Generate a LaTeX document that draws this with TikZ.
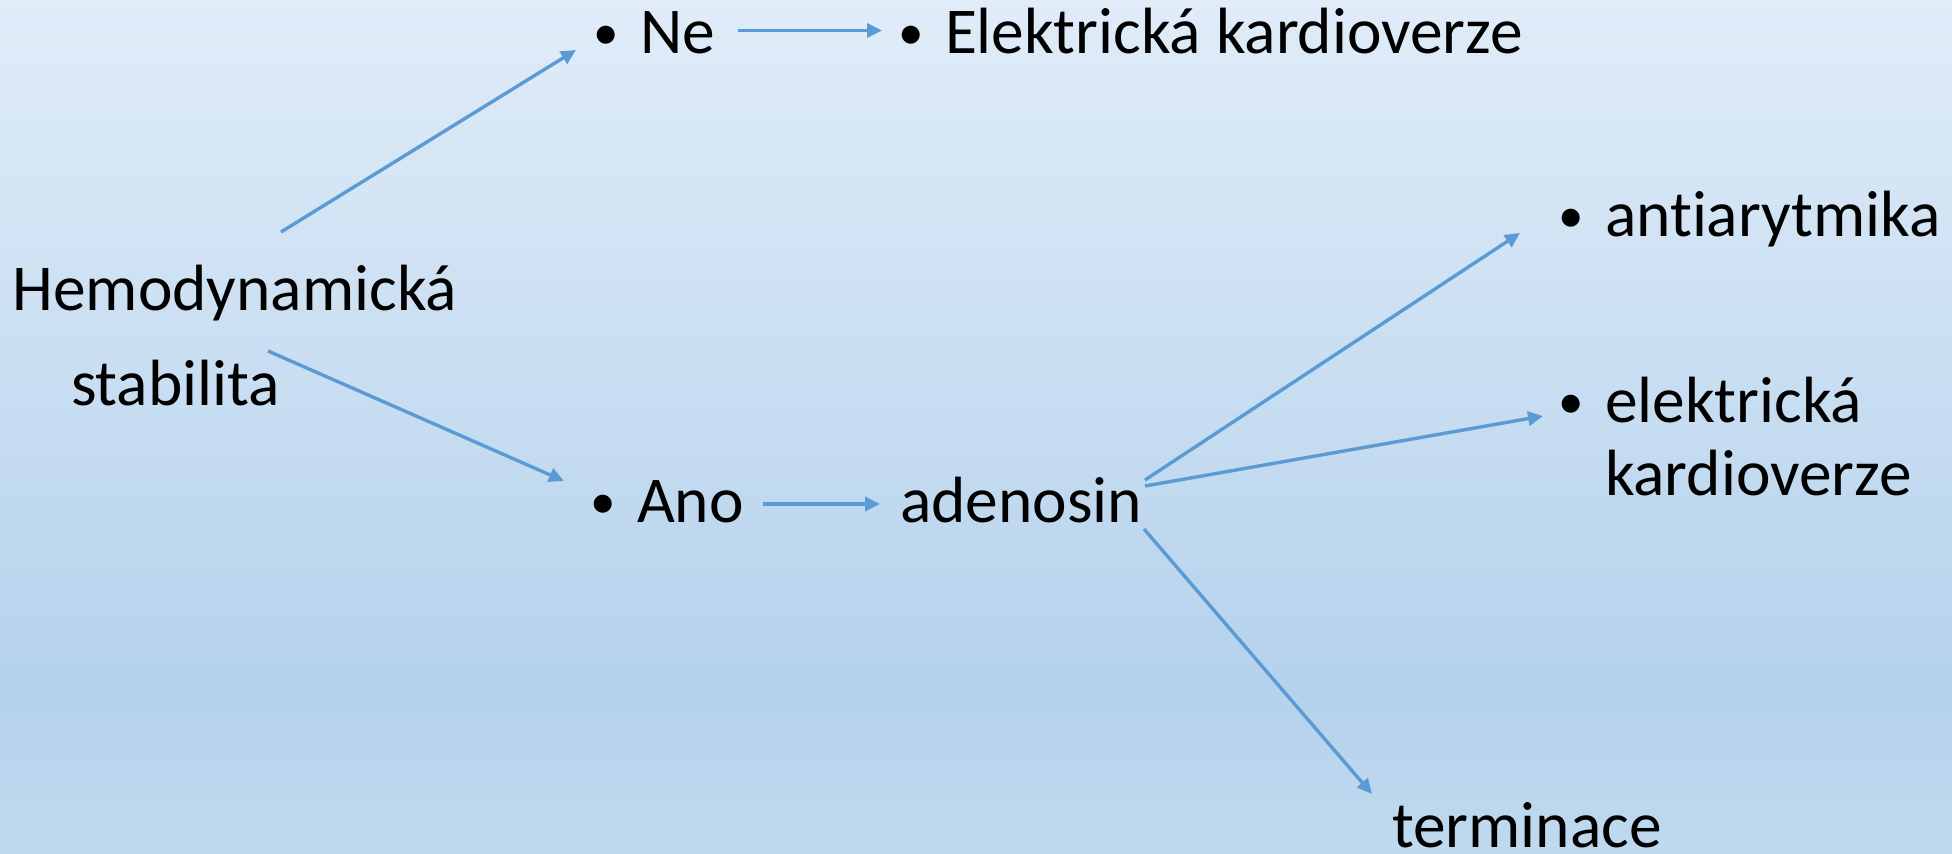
\documentclass[tikz,border=0pt]{standalone}
\usepackage{fontspec}
\setmainfont{Carlito}[Ligatures={NoCommon}]
\usetikzlibrary{arrows.meta}
\definecolor{bgtop}{RGB}{224,236,248}
\definecolor{bgmid}{RGB}{181,210,236}
\definecolor{bgbot}{RGB}{192,217,239}
\definecolor{arrowblue}{RGB}{91,155,213}
\newcommand{\bul}{\llap{\makebox[0pt][c]{\raisebox{2.4pt}{\scalebox{0.78}{•}}}\hspace{17pt}}}
\tikzset{
  lbl/.style={anchor=base west, inner sep=0pt, outer sep=0pt, font=\fontsize{32.7}{38}\selectfont, text=black},
  arr/.style={draw=arrowblue, line width=1.7pt, -{Triangle[length=7.5pt,width=7pt]}},
}
\begin{document}
\begin{tikzpicture}[x=0.5pt,y=-0.5pt]
\useasboundingbox (0,0) rectangle (1952,854);
\shade[top color=bgtop, bottom color=bgmid] (0,0) rectangle (1952,690);
\shade[top color=bgmid, bottom color=bgbot] (0,689) rectangle (1952,854);

\node[lbl] (hemo1) at (12.5,311) {Hemodynamická};
\node[lbl] (hemo2) at (71,406) {stabilita};
\node[lbl] (ne) at (640,54) {\bul Ne};
\node[lbl] (ek) at (945,54) {\bul Elektrická kardioverze};
\node[lbl] (ano) at (637,523) {\bul Ano};
\node[lbl] (aden) at (900,523) {adenosin};
\node[lbl] (anti) at (1605,237) {\bul antiarytmika};
\node[lbl] (elk1) at (1605,423) {\bul elektrická};
\node[lbl] (elk2) at (1605,496) {kardioverze};
\node[lbl] (term) at (1392,847) {terminace};

\draw[arr] ([shift={(268.5,-79)}]hemo1.base west) -- ([shift={(-64,-4)}]ne.base west);
\draw[arr] ([shift={(98,-23.5)}]ne.base west) -- ([shift={(-63,-23.5)}]ek.base west);
\draw[arr] ([shift={(197,-55)}]hemo2.base west) -- ([shift={(-73,-42)}]ano.base west);
\draw[arr] ([shift={(126,-19)}]ano.base west) -- ([shift={(-20,-19)}]aden.base west);
\draw[arr] ([shift={(245,-43)}]aden.base west) -- ([shift={(-85,-4)}]anti.base west);
\draw[arr] ([shift={(245,-37)}]aden.base west) -- ([shift={(-62,-7)}]elk1.base west);
\draw[arr] ([shift={(244,6)}]aden.base west) -- ([shift={(-20,-53)}]term.base west);
\end{tikzpicture}
\end{document}
